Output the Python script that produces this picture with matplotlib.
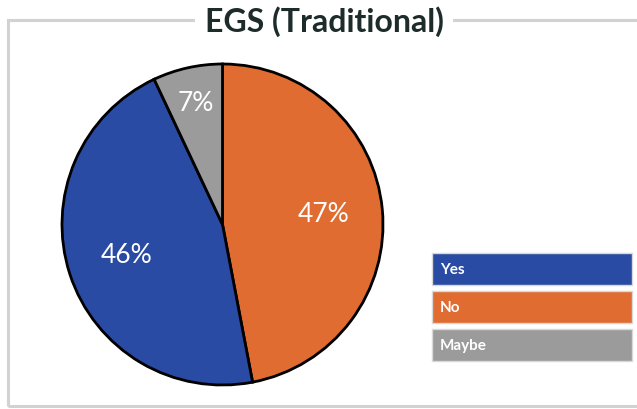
import numpy as np
import matplotlib.pyplot as plt
from matplotlib.patches import Rectangle

labels = ["Yes", "No", "Maybe"]
shares = [46, 47, 7]
colors = ["#2a4ba3", "#e06c31", "#9b9b9b"]

# clockwise from 12 o'clock: No, Yes, Maybe
pie_order = [1, 0, 2]
label_radius = [0.63, 0.63, 0.77]

W, H = 637, 409
fig = plt.figure(figsize=(W / 100, H / 100), dpi=100)
plt.rcParams['font.family'] = ['Lato', 'DejaVu Sans']

# light grey frame around the chart, title sits on its top edge
frame = Rectangle((8 / W, 3 / H), (W + 20) / W, (386) / H, transform=fig.transFigure,
                  fill=False, edgecolor="#d2d2d2", linewidth=2.2, clip_on=False)
fig.patches.append(frame)
fig.text(324 / W, 1 - 22 / H, "EGS (Traditional)", ha="center", va="center",
         fontsize=23, fontweight="bold", color="#1d2b2b",
         bbox=dict(facecolor="white", edgecolor="none", pad=7))

cx, cy, r = 222.5, 224.5, 160.5
ax = fig.add_axes([(cx - r) / W, (H - cy - r) / H, 2 * r / W, 2 * r / H])
vals = [shares[i] for i in pie_order]
wedges, _ = ax.pie(vals, colors=[colors[i] for i in pie_order], startangle=90,
                   counterclock=False, radius=1,
                   wedgeprops=dict(edgecolor="black", linewidth=2))
for w, i in zip(wedges, pie_order):
    ang = np.deg2rad((w.theta1 + w.theta2) / 2)
    rr = label_radius[i]
    ax.text(rr * np.cos(ang), rr * np.sin(ang), f"{shares[i]}%", ha="center",
            va="center", fontsize=19, color="white")
ax.set_xlim(-1, 1)
ax.set_ylim(-1, 1)
ax.set_aspect("equal")
ax.axis("off")

# legend as coloured bars with the label inside
for k, (lab, col) in enumerate(zip(labels, colors)):
    top = 253 + 38 * k
    fig.patches.append(Rectangle((432 / W, 1 - (top + 32) / H), 200 / W, 32 / H,
                                 transform=fig.transFigure, facecolor=col,
                                 edgecolor="#d8d8d8", linewidth=1))
    fig.text(440 / W, 1 - (top + 17) / H, lab, ha="left", va="center",
             fontsize=11, fontweight="bold", color="white")

fig.savefig("out.png", dpi=100)
